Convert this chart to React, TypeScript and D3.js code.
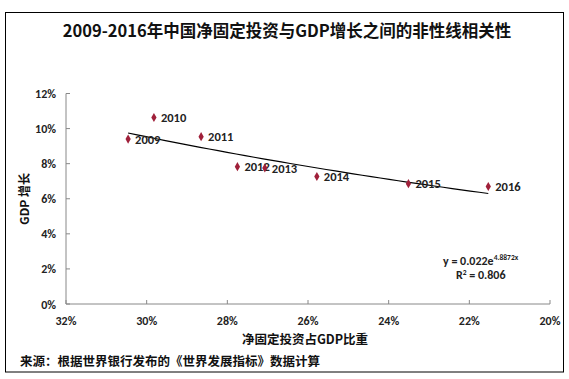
import React from "react";
import * as d3 from "d3";

const years = ["2009", "2010", "2011", "2012", "2013", "2014", "2015", "2016"];
const investShare = [30.46, 29.82, 28.65, 27.75, 27.07, 25.78, 23.51, 21.53];
const gdpGrowth = [9.4, 10.63, 9.54, 7.83, 7.75, 7.27, 6.86, 6.7];
const xTicks = [32, 30, 28, 26, 24, 22, 20];
const yTicks = [0, 2, 4, 6, 8, 10, 12];
const trendA = 0.022;
const trendB = 4.8872;

const W = 569;
const H = 379;

export default function App() {
  const x = d3.scaleLinear().domain([32, 20]).range([66, 550]);
  const y = d3.scaleLinear().domain([0, 12]).range([304, 93.5]);
  const xmin = d3.min(investShare) as number;
  const xmax = d3.max(investShare) as number;
  const trendPts = d3.range(0, 41).map((i) => {
    const xv = xmax - ((xmax - xmin) * i) / 40;
    return [xv, trendA * Math.exp((trendB * xv) / 100) * 100] as [number, number];
  });
  const line = d3
    .line<[number, number]>()
    .x((d) => x(d[0]))
    .y((d) => y(d[1]));
  const diamond = d3.symbol().type(d3.symbolDiamond).size(24)();
  const latin = "Calibri, 'Liberation Sans', 'Noto Sans', sans-serif";
  const cjk = "'Noto Sans CJK SC', sans-serif";
  return (
    <svg
      width={W}
      height={H}
      style={{ position: "absolute", left: 0, top: 0, background: "#fff" }}
    >
      <rect x={0} y={0} width={W} height={H} fill="#fff" />
      <rect x={5.5} y={12.5} width={558} height={359.5} fill="#fff" stroke="#000" strokeWidth={1} />
      <text
        x={287}
        y={37}
        textAnchor="middle"
        fontFamily={cjk}
        fontWeight="bold"
        fontSize={16.5}
        fill="#111"
      >
        2009-2016年中国净固定投资与GDP增长之间的非性线相关性
      </text>
      {/* axes */}
      <line x1={x(32)} x2={x(20)} y1={y(0)} y2={y(0)} stroke="#888" strokeWidth={1} />
      <line x1={x(32)} x2={x(32)} y1={y(0)} y2={y(12)} stroke="#888" strokeWidth={1} />
      {yTicks.map((t) => (
        <g key={"y" + t}>
          <line x1={x(32)} x2={x(32) + 4} y1={y(t)} y2={y(t)} stroke="#888" />
          <text
            x={56}
            y={y(t) + 4.5}
            textAnchor="end"
            fontFamily={latin}
            fontWeight="bold"
            fontSize={12}
            fill="#222"
          >
            {t}%
          </text>
        </g>
      ))}
      {xTicks.map((t) => (
        <g key={"x" + t}>
          <line x1={x(t)} x2={x(t)} y1={y(0)} y2={y(0) - 4} stroke="#888" />
          <text
            x={x(t)}
            y={y(0) + 21}
            textAnchor="middle"
            fontFamily={latin}
            fontWeight="bold"
            fontSize={12}
            fill="#222"
          >
            {t}%
          </text>
        </g>
      ))}
      <text
        x={305}
        y={344}
        textAnchor="middle"
        fontFamily={cjk}
        fontWeight="bold"
        fontSize={12.5}
        fill="#111"
      >
        净固定投资占GDP比重
      </text>
      <text
        transform={`translate(29,199) rotate(-90)`}
        textAnchor="middle"
        fontFamily={cjk}
        fontWeight="bold"
        fontSize={12}
        fill="#111"
      >
        GDP 增长
      </text>
      <text
        x={20}
        y={366}
        fontFamily={cjk}
        fontWeight="bold"
        fontSize={12.5}
        fill="#111"
      >
        来源：根据世界银行发布的《世界发展指标》数据计算
      </text>
      {/* trendline */}
      <path d={line(trendPts) || ""} fill="none" stroke="#000" strokeWidth={1.2} />
      {/* points */}
      {years.map((yr, i) => (
        <g key={yr}>
          <path
            d={diamond || ""}
            transform={`translate(${x(investShare[i])},${y(gdpGrowth[i])})`}
            fill="#A0203A"
          />
          <text
            x={x(investShare[i]) + 7}
            y={y(gdpGrowth[i]) + 4.5}
            fontFamily={latin}
            fontWeight="bold"
            fontSize={12.5}
            fill="#222"
          >
            {yr}
          </text>
        </g>
      ))}
      <text x={443} y={265} fontFamily={latin} fontWeight="bold" fontSize={12} fill="#222">
        y = 0.022e
        <tspan dy={-5} fontSize={7.5}>
          4.8872x
        </tspan>
      </text>
      <text x={456} y={279} fontFamily={latin} fontWeight="bold" fontSize={12} fill="#222">
        R
        <tspan dy={-4} fontSize={7.5}>
          2
        </tspan>
        <tspan dy={4}> = 0.806</tspan>
      </text>
    </svg>
  );
}
